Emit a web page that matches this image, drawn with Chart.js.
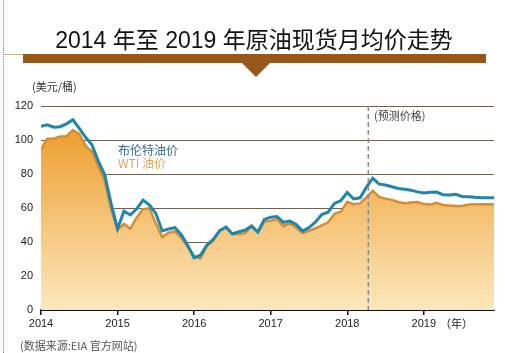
<!DOCTYPE html>
<html>
<head>
<meta charset="utf-8">
<script src="https://cdn.jsdelivr.net/npm/chart.js@4.4.1/dist/chart.umd.min.js"></script>
<style>
  body { margin: 0; background: #fff; }
  .wrap { position: relative; width: 505px; height: 353px; overflow: hidden; font-family: "Liberation Sans", "Noto Sans CJK SC", sans-serif; }
  .wrap canvas { position: absolute; left: 0; top: 0; }
  .dots { position: absolute; left: 3px; top: 0; height: 353px; border-left: 1px dotted #888; }
  .thin { position: absolute; left: 4px; top: 54px; width: 20px; height: 1px; background: #c9b48a; }
  .title { position: absolute; left: 0; width: 508px; top: 21px; text-align: center; font-size: 23px; color: #111; white-space: nowrap; }
  .bar { position: absolute; left: 23px; top: 54px; width: 463px; height: 9px; background: #97571b; }
  .tri { position: absolute; left: 242px; top: 63px; width: 0; height: 0; border-left: 14px solid transparent; border-right: 14px solid transparent; border-top: 14px solid #97571b; }
  .txt { position: absolute; white-space: nowrap; font-family: "Noto Sans CJK SC", sans-serif; }
</style>
</head>
<body>
<div class="wrap">
  <canvas id="oil_chart" width="505" height="353"></canvas>
  <div class="dots"></div>
  <div class="thin"></div>
  <div class="title">2014 年至 2019 年原油现货月均价走势</div>
  <div class="bar"></div>
  <div class="tri"></div>
  <div class="txt" style="left:32px;top:78px;font-size:11px;color:#333;">(美元/桶)</div>
  <div class="txt" style="left:118px;top:141px;font-size:12px;color:#3a6f8f;">布伦特油价</div>
  <div class="txt" style="left:118px;top:154px;font-size:12px;color:#e2a462;">WTI 油价</div>
  <div class="txt" style="left:374px;top:107px;font-size:11px;color:#444;">(预测价格)</div>
  <div class="txt" style="left:440px;top:315px;font-size:11px;color:#222;">（年）</div>
  <div class="txt" style="left:20px;top:337px;font-size:11px;color:#555;">(数据来源:EIA 官方网站)</div>
</div>
<script>
// 月度数据 2014.01 - 2019.12
const yearLabels = ["2014", "2015", "2016", "2017", "2018", "2019"];
const brent = [
  108.1, 108.9, 107.5, 107.8, 109.5, 111.9, 106.8, 101.6, 97.1, 87.4, 79.4, 62.3,
  47.8, 58.1, 55.9, 59.5, 64.6, 61.7, 56.8, 46.5, 47.6, 48.4, 44.3, 38.0,
  30.7, 32.2, 38.2, 41.6, 46.7, 48.8, 44.7, 46.0, 47.0, 49.3, 45.9, 53.3,
  54.6, 55.0, 51.6, 52.3, 50.3, 46.4, 48.5, 51.7, 56.2, 57.5, 62.7, 64.4,
  69.1, 65.3, 66.0, 72.1, 77.5, 74.0, 73.5, 72.5, 71.5, 71.0, 70.5, 69.5,
  68.8, 69.2, 69.4, 67.8, 67.6, 68.0, 66.8, 66.6, 66.3, 66.1, 66.0, 66.0
];
const wti = [
  94.6, 100.8, 100.8, 102.1, 102.2, 105.8, 103.6, 96.5, 93.2, 84.4, 75.8, 59.3,
  47.2, 50.6, 47.8, 54.5, 59.3, 59.8, 50.9, 42.9, 45.5, 46.2, 42.4, 37.2,
  31.7, 30.3, 37.6, 40.8, 46.7, 48.8, 44.7, 44.7, 45.2, 49.8, 45.7, 52.0,
  52.5, 53.5, 49.3, 51.1, 48.5, 45.2, 46.6, 48.0, 49.8, 51.6, 56.6, 57.9,
  63.7, 62.2, 62.7, 66.3, 70.2, 66.5, 65.5, 64.8, 63.5, 62.8, 63.3, 63.5,
  62.3, 62.0, 63.0, 61.8, 61.5, 61.2, 61.2, 62.0, 62.2, 62.2, 62.2, 62.2
];
const forecastStart = 51.3; // 2018年4月之后为预测
const yTicks = [0, 20, 40, 60, 80, 100, 120];

const toPoints = arr => arr.map((v, i) => ({ x: i, y: v }));

// 预测分界虚线
const forecastLine = {
  id: "forecastLine",
  afterDatasetsDraw(chart) {
    const ctx = chart.ctx;
    const x = chart.scales.x.getPixelForValue(forecastStart);
    ctx.save();
    ctx.strokeStyle = "#8a8a8a";
    ctx.lineWidth = 1.5;
    ctx.setLineDash([5, 3]);
    ctx.beginPath();
    ctx.moveTo(x, chart.chartArea.top);
    ctx.lineTo(x, chart.chartArea.bottom);
    ctx.stroke();
    ctx.restore();
  }
};

let context = document.querySelector("#oil_chart").getContext("2d");
new Chart(context, {
  type: "line",
  data: {
    datasets: [
      {
        label: "布伦特油价",
        data: toPoints(brent),
        borderColor: "#1d86ae",
        borderWidth: 3,
        pointRadius: 0,
        fill: false,
      },
      {
        label: "WTI 油价",
        data: toPoints(wti),
        borderColor: "#d38d35",
        borderWidth: 2.5,
        pointRadius: 0,
        fill: "origin",
        backgroundColor: (c) => {
          const area = c.chart.chartArea;
          if (!area) return "#f3b04f";
          const g = c.chart.ctx.createLinearGradient(0, area.top, 0, area.bottom);
          g.addColorStop(0, "#ec961e");
          g.addColorStop(0.5, "#f4be6e");
          g.addColorStop(1, "#fde8bd");
          return g;
        },
      },
    ],
  },
  options: {
    responsive: false,
    animation: false,
    layout: { padding: { top: 106, right: 11, left: 0, bottom: 0 } },
    scales: {
      x: {
        type: "linear",
        min: 0,
        max: 71,
        z: 1,
        afterFit: (s) => { s.height = 43; },
        border: { display: true, color: "#111", width: 2 },
        grid: { drawOnChartArea: false, color: "#111", tickLength: 5, lineWidth: 1.5 },
        ticks: {
          stepSize: 12,
          includeBounds: false,
          maxRotation: 0,
          padding: 2,
          color: "#222",
          font: { size: 11, family: "Liberation Sans" },
          callback: (value) => yearLabels[value / 12],
        },
      },
      y: {
        min: 0,
        max: 120,
        z: 1,
        afterFit: (s) => { s.width = 41; },
        afterBuildTicks: (s) => { s.ticks = yTicks.map(v => ({ value: v })); },
        border: { display: false },
        grid: {
          drawTicks: false,
          color: (c) => (c.tick && c.tick.value === 0 ? "rgba(0,0,0,0)" : "#6e6254"),
          lineWidth: 1,
        },
        ticks: {
          padding: 8,
          color: "#222",
          font: { size: 11, family: "Liberation Sans" },
        },
      },
    },
    plugins: {
      legend: { display: false },
      tooltip: { enabled: false },
    },
  },
  plugins: [forecastLine],
});
</script>
</body>
</html>
